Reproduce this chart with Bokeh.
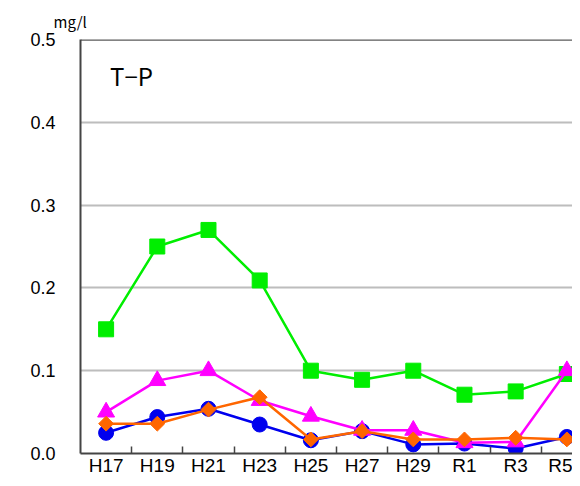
from bokeh.plotting import figure
from bokeh.models import Range1d, FixedTicker, Label, Title
from bokeh.embed import file_html
from bokeh.resources import INLINE

years = ["H17", "H19", "H21", "H23", "H25", "H27", "H29", "R1", "R3", "R5"]
green = [0.150, 0.250, 0.270, 0.209, 0.100, 0.089, 0.100, 0.071, 0.075, 0.096]
magenta = [0.050, 0.088, 0.100, 0.064, 0.045, 0.028, 0.028, 0.013, 0.014, 0.100]
blue = [0.025, 0.044, 0.054, 0.035, 0.016, 0.027, 0.011, 0.012, 0.006, 0.020]
orange = [0.036, 0.036, 0.053, 0.068, 0.017, 0.027, 0.017, 0.017, 0.019, 0.017]
y_ticks = [0.0, 0.1, 0.2, 0.3, 0.4, 0.5]

xs = list(range(len(years)))
FONT = "Liberation Sans"
JFONT = "Noto Sans CJK JP"
X_END = 9.11

p = figure(width=572, height=478, output_backend="svg", toolbar_location=None,
           x_range=Range1d(-0.5, X_END), y_range=Range1d(0, 0.5),
           min_border_left=80, min_border_right=0, min_border_top=39, min_border_bottom=23)
p.outline_line_color = None
p.background_fill_color = "white"
p.border_fill_color = "white"

# unit label above the axis
p.add_layout(Title(text="mg/l", align="left", offset=-27, standoff=16,
                   text_font=JFONT, text_font_size="15px", text_font_style="normal",
                   text_color="black"), "above")

# grid
p.xgrid.grid_line_color = None
p.ygrid.ticker = FixedTicker(ticks=[0.1, 0.2, 0.3, 0.4])
p.ygrid.grid_line_color = "#7a7a7a"
p.ygrid.grid_line_width = 2
p.ygrid.grid_line_dash = "1 1"

# top border
p.line(x=[-0.5, X_END], y=[0.5, 0.5], line_color="#5a5a5a", line_width=2.5)

# y axis
p.yaxis.ticker = FixedTicker(ticks=y_ticks)
p.yaxis.major_label_overrides = {t: f"{t:.1f}" for t in y_ticks}
p.yaxis.axis_line_color = "#444444"
p.yaxis.axis_line_width = 2
p.yaxis.major_tick_line_color = None
p.yaxis.minor_tick_line_color = None
p.yaxis.major_label_standoff = 19
p.yaxis.major_label_text_font = FONT
p.yaxis.major_label_text_font_size = "18px"
p.yaxis.major_label_text_color = "black"

# x axis
p.xaxis.ticker = FixedTicker(ticks=xs, minor_ticks=[x + 0.5 for x in xs])
p.xaxis.major_label_overrides = {x: lab for x, lab in zip(xs, years)}
p.xaxis.axis_line_color = "#444444"
p.xaxis.axis_line_width = 2
p.xaxis.major_tick_line_color = None
p.xaxis.major_tick_in = 0
p.xaxis.major_tick_out = 0
p.xaxis.minor_tick_in = 7
p.xaxis.minor_tick_out = 0
p.xaxis.minor_tick_line_color = "#444444"
p.xaxis.minor_tick_line_width = 1.5
p.xaxis.major_label_standoff = 1
p.xaxis.major_label_text_font = FONT
p.xaxis.major_label_text_font_size = "19px"
p.xaxis.major_label_text_color = "black"

# series
p.line(xs, green, line_color="#00EE00", line_width=2.5)
p.scatter(xs, green, marker="square", size=15, fill_color="#00EE00", line_color="#00EE00")

p.line(xs, blue, line_color="#0000EE", line_width=2.5)
p.scatter(xs, blue, marker="circle", size=15, fill_color="#0000EE", line_color="#0000EE")

p.line(xs, magenta, line_color="#FF00FF", line_width=2.5)
p.scatter(xs, magenta, marker="triangle", size=17, fill_color="#FF00FF", line_color="#FF00FF")

p.line(xs, orange, line_color="#FF6600", line_width=2.5)
p.scatter(xs, orange, marker="square", angle=0.785398, size=10.5,
          fill_color="#FF6600", line_color="#FF6600")

# panel title
p.add_layout(Label(x=0, y=0.457, text="T\u2212P", text_font=JFONT, text_font_size="24px",
                   text_color="black", text_align="left", text_baseline="middle", x_offset=4))

open("out.html", "w").write(file_html(p, INLINE))
